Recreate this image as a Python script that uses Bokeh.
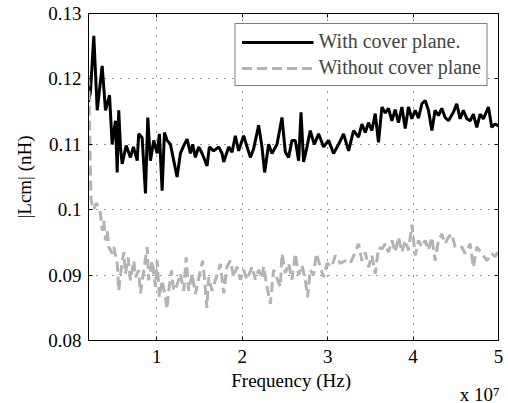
import numpy as np
from bokeh.plotting import figure
from bokeh.models import Range1d, FixedTicker, LinearAxis, Title, Legend, LegendItem
from bokeh.embed import file_html
from bokeh.resources import INLINE

# ---------------- data ----------------
x_ticks = [1, 2, 3, 4, 5]                 # units of 1e7 Hz
x_tick_labels = ["1", "2", "3", "4", "5"]
y_ticks = [0.08, 0.09, 0.10, 0.11, 0.12, 0.13]
y_tick_labels = ["0.08", "0.09", "0.1", "0.11", "0.12", "0.13"]
x_exponent_text = "x 10\u2077"

series_names = ["With cover plane.", "Without cover plane"]

freq_with_mhz = [2.0, 2.23, 2.62, 3.02, 3.60, 3.99, 4.46, 4.77, 5.16, 5.36, 5.54, 5.74, 5.94, 6.41,
                 6.91, 7.26, 7.70, 7.88, 8.28, 8.67, 8.94, 9.25, 9.64, 10.04, 10.30, 10.62, 10.89,
                 11.20, 11.59, 11.98, 12.37, 12.76, 13.15, 13.54, 13.93, 14.20, 14.51, 14.90, 15.30,
                 15.88, 16.15, 16.66, 17.24, 17.64, 17.83, 18.41, 18.81, 19.19, 19.58, 20.16, 20.95,
                 21.33, 21.92, 22.31, 22.62, 23.09, 23.48, 24.07, 24.65, 25.04, 25.43, 25.82, 26.21,
                 26.60, 26.88, 27.18, 27.58, 27.96, 28.43, 28.94, 29.52, 30.11, 30.69, 31.28, 31.86,
                 32.45, 33.03, 33.61, 34.01, 34.40, 34.78, 35.18, 35.57, 35.95, 36.35, 36.74, 37.12,
                 37.52, 37.91, 38.29, 38.69, 39.08, 39.46, 39.86, 40.25, 40.63, 41.03, 41.42, 41.80,
                 42.20, 42.58, 42.97, 43.36, 43.75, 44.14, 44.72, 45.11, 45.51, 45.89, 46.29, 46.68,
                 47.06, 47.46, 47.85, 48.23, 48.82, 49.21, 49.60, 50.0]
lcm_with = [0.1165, 0.1180, 0.1266, 0.1152, 0.1220, 0.1152, 0.1175, 0.1100, 0.1136, 0.1057, 0.1152,
            0.1096, 0.1070, 0.1098, 0.1080, 0.1096, 0.1075, 0.1116, 0.1110, 0.1025, 0.1141, 0.1075,
            0.1106, 0.1086, 0.1116, 0.1029, 0.1118, 0.1106, 0.1100, 0.1075, 0.1050, 0.1086, 0.1098,
            0.1108, 0.1086, 0.1100, 0.1080, 0.1096, 0.1086, 0.1067, 0.1096, 0.1090, 0.1096, 0.1086,
            0.1073, 0.1096, 0.1088, 0.1113, 0.1090, 0.1113, 0.1080, 0.1093, 0.1129, 0.1096, 0.1057,
            0.1100, 0.1086, 0.1100, 0.1141, 0.1088, 0.1080, 0.1106, 0.1106, 0.1075, 0.1149, 0.1073,
            0.1096, 0.1121, 0.1100, 0.1116, 0.1096, 0.1106, 0.1086, 0.1100, 0.1116, 0.1090, 0.1121,
            0.1111, 0.1131, 0.1118, 0.1133, 0.1121, 0.1147, 0.1103, 0.1157, 0.1148, 0.1155, 0.1136,
            0.1153, 0.1133, 0.1157, 0.1124, 0.1157, 0.1139, 0.1152, 0.1140, 0.1162, 0.1167, 0.1152,
            0.1121, 0.1152, 0.1144, 0.1155, 0.1141, 0.1136, 0.1149, 0.1162, 0.1139, 0.1152, 0.1139,
            0.1136, 0.1146, 0.1126, 0.1146, 0.1139, 0.1157, 0.1126, 0.1131, 0.1128]

freq_without_mhz = [2.0, 2.08, 2.18, 2.30, 2.58, 2.94, 3.40, 3.60, 3.79, 3.99, 4.19, 4.37, 4.77, 4.96,
                    5.36, 5.54, 5.86, 6.13, 6.33, 6.64, 6.91, 7.30, 7.50, 7.88, 8.08, 8.58, 8.87, 9.05,
                    9.45, 9.84, 10.04, 10.30, 10.62, 11.01, 11.18, 11.39, 11.71, 11.98, 12.37, 12.76,
                    13.15, 13.43, 13.73, 14.13, 14.51, 15.10, 15.37, 15.60, 15.86, 16.07, 16.47, 16.85,
                    17.44, 17.83, 18.22, 18.61, 19.00, 19.39, 19.78, 20.16, 20.56, 21.15, 21.53, 21.92,
                    22.31, 22.50, 22.90, 23.29, 23.67, 24.07, 24.46, 24.65, 25.04, 25.43, 25.82, 26.21,
                    26.60, 26.99, 27.38, 27.65, 27.96, 28.35, 28.67, 29.13, 29.52, 29.92, 30.50, 30.89,
                    31.47, 32.06, 32.64, 33.23, 33.43, 33.61, 34.01, 34.40, 34.78, 35.18, 35.57, 35.95,
                    36.35, 36.74, 37.12, 37.52, 37.91, 38.29, 38.69, 39.08, 39.46, 39.86, 40.25, 40.63,
                    41.03, 41.42, 41.80, 42.20, 42.58, 42.97, 43.36, 43.75, 44.14, 44.53, 44.92, 45.71,
                    46.09, 46.68, 47.06, 47.46, 48.05, 48.63, 49.21, 49.60, 50.0]
lcm_without = [0.1205, 0.1168, 0.1085, 0.1015, 0.1000, 0.1010, 0.0995, 0.0968, 0.0983, 0.0953, 0.0968,
               0.0943, 0.0933, 0.0943, 0.0918, 0.0876, 0.0913, 0.0935, 0.0902, 0.0927, 0.0892, 0.0922,
               0.0897, 0.0907, 0.0872, 0.0917, 0.0943, 0.0892, 0.0922, 0.0882, 0.0922, 0.0866, 0.0892,
               0.0866, 0.0848, 0.0876, 0.0907, 0.0876, 0.0885, 0.0902, 0.0876, 0.0927, 0.0876, 0.0902,
               0.0871, 0.0907, 0.0922, 0.0892, 0.0850, 0.0897, 0.0876, 0.0892, 0.0917, 0.0872, 0.0913,
               0.0922, 0.0897, 0.0913, 0.0893, 0.0908, 0.0893, 0.0913, 0.0893, 0.0908, 0.0895, 0.0913,
               0.0882, 0.0856, 0.0908, 0.0895, 0.0882, 0.0933, 0.0903, 0.0918, 0.0893, 0.0933, 0.0900,
               0.0915, 0.0893, 0.0866, 0.0908, 0.0900, 0.0933, 0.0913, 0.0897, 0.0918, 0.0913, 0.0930,
               0.0918, 0.0922, 0.0918, 0.0935, 0.0942, 0.0948, 0.0922, 0.0935, 0.0912, 0.0930, 0.0902,
               0.0942, 0.0940, 0.0948, 0.0935, 0.0953, 0.0935, 0.0958, 0.0935, 0.0953, 0.0938, 0.0977,
               0.0930, 0.0953, 0.0943, 0.0953, 0.0938, 0.0958, 0.0922, 0.0953, 0.0963, 0.0948, 0.0958,
               0.0963, 0.0943, 0.0943, 0.0933, 0.0948, 0.0912, 0.0943, 0.0933, 0.0922, 0.0933, 0.0928,
               0.0938]

assert len(freq_with_mhz) == len(lcm_with)
assert len(freq_without_mhz) == len(lcm_without)

# frequency plotted in units of 1e7 Hz (axis shows "x 10^7")
x_with = np.array(freq_with_mhz) * 1e6 / 1e7
x_without = np.array(freq_without_mhz) * 1e6 / 1e7

FONT = "Liberation Serif"
FS = "19px"
W, H = 508, 403

p = figure(width=W, height=H,
           x_range=Range1d(0.2, 5.0), y_range=Range1d(0.08, 0.13),
           output_backend="svg", toolbar_location=None,
           min_border_left=88, min_border_right=10, min_border_top=13, min_border_bottom=63)
p.background_fill_color = "white"
p.border_fill_color = "white"
p.outline_line_color = "black"
p.outline_line_width = 1

r1 = p.line(x_with, lcm_with, line_color="black", line_width=3)
r2 = p.line(x_without, lcm_without, line_color="#b3b3b3", line_width=3, line_dash="10 5")

# axes
p.xaxis.ticker = FixedTicker(ticks=x_ticks)
p.yaxis.ticker = FixedTicker(ticks=y_ticks)
p.xaxis.major_label_overrides = dict(zip(x_ticks, x_tick_labels))
p.yaxis.major_label_overrides = dict(zip(y_ticks, y_tick_labels))
for ax in (p.xaxis, p.yaxis):
    ax.major_tick_in = 4
    ax.major_tick_out = 0
    ax.minor_tick_in = 0
    ax.minor_tick_out = 0
    ax.axis_line_color = "black"
    ax.major_tick_line_color = "black"
    ax.major_label_text_font = FONT
    ax.major_label_text_font_size = FS
    ax.major_label_text_color = "black"
    ax.axis_label_text_font = FONT
    ax.axis_label_text_font_size = FS
    ax.axis_label_text_font_style = "normal"
    ax.axis_label_text_color = "black"
p.xaxis.axis_label = "Frequency  (Hz)"
p.yaxis.axis_label = "|Lcm| (nH)"
p.xaxis.major_label_standoff = 9
p.yaxis.major_label_standoff = 7
p.xaxis.axis_label_standoff = 4
p.yaxis.axis_label_standoff = 10

# mirrored ticks on top and right (MATLAB box), without labels
top = LinearAxis(ticker=FixedTicker(ticks=x_ticks), major_tick_in=4, major_tick_out=0,
                 minor_tick_in=0, minor_tick_out=0, major_label_text_color=None,
                 major_label_standoff=0, axis_line_color="black")
right = LinearAxis(ticker=FixedTicker(ticks=y_ticks), major_tick_in=4, major_tick_out=0,
                   minor_tick_in=0, minor_tick_out=0, major_label_text_color=None,
                   major_label_standoff=0, axis_line_color="black")
p.add_layout(top, "above")
p.add_layout(right, "right")

# dotted grid
p.xgrid.ticker = FixedTicker(ticks=x_ticks)
p.ygrid.ticker = FixedTicker(ticks=y_ticks)
for g in (p.xgrid, p.ygrid):
    g.grid_line_color = "#303030"
    g.grid_line_dash = "1 7"
    g.grid_line_width = 1

# legend
legend = Legend(items=[LegendItem(label=series_names[0], renderers=[r1]),
                       LegendItem(label=series_names[1], renderers=[r2])],
                location="top_right", margin=10, padding=6, spacing=3,
                glyph_width=72, glyph_height=22, label_height=22, label_standoff=5,
                label_text_font=FONT, label_text_font_size="20px",
                border_line_color="black", border_line_width=1,
                background_fill_color="white", background_fill_alpha=1.0)
p.add_layout(legend)

# axis exponent "x 10^7" as a title in the bottom panel, right-aligned
p.add_layout(Title(text=x_exponent_text, align="right", vertical_align="top", standoff=-20,
                   offset=-1, text_font=FONT, text_font_size=FS, text_font_style="normal",
                   text_color="black"), "below")

open("out.html", "w").write(file_html(p, INLINE))
